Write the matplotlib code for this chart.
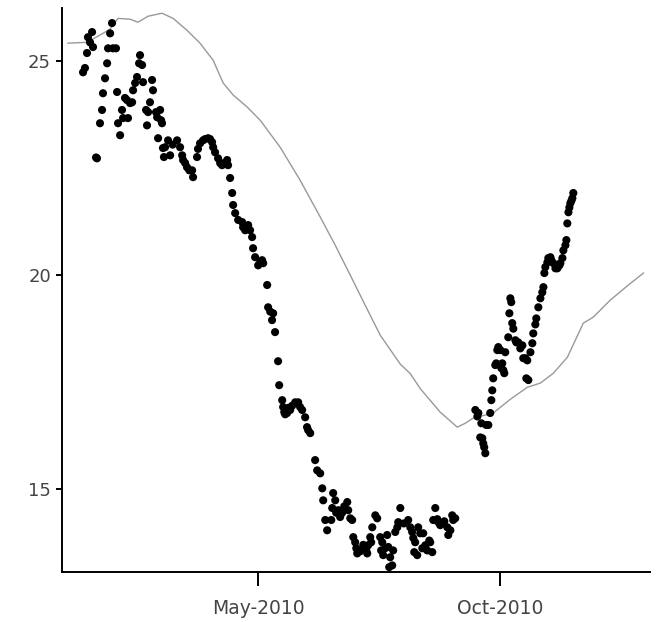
import matplotlib
matplotlib.use("Agg")
import matplotlib.pyplot as plt
import matplotlib.dates as mdates
import pandas as pd

# observed temperature, day offsets counted from 1 Jan 2010
obs_days = [
    9.4, 10.6, 11.9, 12.5, 13.8, 15.1, 15.7, 17.6, 18.2, 20.1, 21.4, 22.0, 23.3, 24.6, 25.2,
    26.5, 27.7, 28.3, 30.2, 30.9, 31.5, 32.8, 34.0, 34.7, 35.9, 37.2, 37.8, 39.1, 40.4, 41.0,
    42.3, 43.5, 44.8, 45.4, 46.7, 47.3, 49.2, 49.8, 50.5, 51.7, 53.0, 53.6, 55.5, 56.2, 56.8,
    58.1, 58.7, 59.3, 59.9, 60.5,
    61.2, 63.1, 64.4, 66.0, 68.8, 70.7, 72.0, 72.6, 73.9, 75.1, 76.5, 78.3, 78.9, 81.4, 82.0,
    83.3, 85.2, 86.5, 88.4, 89.6, 90.9, 91.6, 92.8, 94.7, 96.0, 97.2, 98.5, 100.4, 101.0, 102.3,
    103.6, 104.2, 105.5, 107.4, 109.9, 110.5, 111.8, 113.7, 114.9, 116.2, 116.8, 118.1, 120.0,
    121.3, 122.5, 123.2, 125.7, 126.3, 127.6, 128.8, 129.5, 130.7, 132.6, 133.3, 135.2, 135.8,
    136.5, 137.1, 138.3, 139.0, 140.2, 141.5, 143.4, 145.3, 146.5, 147.8, 149.7, 150.9, 151.6,
    152.9,
    156.0, 157.3, 159.2, 160.5, 161.1, 162.4, 163.6, 166.2, 166.8, 167.4, 168.7, 169.3, 170.6,
    171.8, 173.1, 174.4, 176.3, 176.9, 178.2, 179.4, 180.1, 181.3, 182.0, 182.6, 184.5, 186.4,
    188.3, 188.9, 189.5, 190.8, 191.4, 192.1, 194.0, 195.2, 197.1, 197.7, 198.4, 199.0, 200.2,
    201.5, 202.2, 202.8, 203.4, 204.7, 205.3, 206.6, 207.9, 208.5, 209.8, 212.0, 214.8, 216.1,
    217.3, 218.0, 218.6, 219.2, 220.5, 221.1, 222.4, 223.7, 224.3, 225.6, 226.8, 228.1, 228.7,
    230.0, 230.6, 231.9, 233.2, 233.8, 235.0, 236.3, 237.6, 239.5, 240.1, 241.4, 242.6, 243.2,
    244.5,
    257.2, 258.5, 259.1, 260.3, 261.0, 261.6, 262.2, 262.8, 263.5, 264.1, 265.4, 266.6, 267.3,
    267.9, 268.5, 269.8, 270.4, 271.1, 271.7, 273.0, 273.6, 274.2, 274.9, 275.5, 276.1, 278.0,
    278.7, 279.3, 279.9, 280.5, 281.2, 282.5, 283.1, 284.3, 285.6, 286.9, 287.5, 288.8, 289.4,
    290.0, 290.7, 292.0, 293.2, 293.8, 295.1, 295.7, 297.0, 298.3, 299.5, 300.2, 300.8, 301.4,
    302.7, 303.3, 304.6, 305.2, 306.5, 307.8, 309.0, 310.3, 310.9, 312.2, 312.8, 314.1, 314.7,
    315.3, 316.0, 316.6, 317.2, 317.9, 318.5, 319.1,
]
obs_temp = [
    24.74, 24.84, 25.19, 25.56, 25.44, 25.68, 25.33, 22.75, 22.73, 23.55, 23.86, 24.25, 24.60, 24.95, 25.30,
    25.65, 25.89, 25.30, 25.30, 24.28, 23.55, 23.27, 23.86, 23.67, 24.14, 24.09, 23.67, 24.02, 24.04, 24.32,
    24.49, 24.63, 24.95, 25.14, 24.91, 24.51, 23.86, 23.50, 23.81, 24.04, 24.56, 24.32, 23.81, 23.69, 23.20,
    23.86, 23.62, 23.55, 22.97, 22.76,
    22.99, 23.15, 22.80, 23.05, 23.15, 22.99, 22.80, 22.69, 22.62, 22.52, 22.45, 22.45, 22.29, 22.76, 22.95,
    23.08, 23.15, 23.18, 23.20, 23.18, 23.11, 22.99, 22.87, 22.73, 22.62, 22.57, 22.62, 22.69, 22.57, 22.27,
    21.92, 21.64, 21.45, 21.29, 21.24, 21.12, 21.05, 21.17, 21.05, 20.89, 20.63, 20.42, 20.23,
    20.30, 20.35, 20.28, 19.77, 19.25, 19.15, 18.95, 19.11, 18.67, 17.99, 17.43, 17.08, 16.92,
    16.80, 16.75, 16.78, 16.90, 16.85, 16.95, 17.03, 17.03, 16.92, 16.85, 16.68, 16.45, 16.38,
    16.31,
    15.68, 15.44, 15.37, 15.02, 14.74, 14.28, 14.04, 14.28, 14.56, 14.91, 14.74, 14.45, 14.51,
    14.35, 14.45, 14.60, 14.70, 14.51, 14.32, 14.28, 13.88, 13.76, 13.62, 13.50, 13.55, 13.70,
    13.57, 13.50, 13.69, 13.88, 13.76, 14.11, 14.39, 14.32, 13.88, 13.57, 13.76, 13.46, 13.62,
    13.93, 13.65, 13.18, 13.41, 13.22, 13.57, 14.00, 14.11, 14.23, 14.56, 14.20, 14.28, 14.11,
    14.00, 13.86, 13.53, 13.76, 13.46, 14.11, 13.97, 13.62, 13.97, 13.69, 13.57, 13.80, 13.76,
    13.53, 14.28, 14.56, 14.30, 14.23, 14.16, 14.20, 14.25, 14.11, 13.93, 14.04, 14.39, 14.28,
    14.32,
    16.85, 16.70, 16.78, 16.21, 16.54, 16.19, 16.07, 15.98, 15.84, 16.50, 16.50, 16.78, 17.08,
    17.31, 17.59, 17.90, 17.94, 18.25, 18.32, 18.25, 17.83, 17.94, 17.78, 17.71, 18.20, 18.55,
    19.11, 19.46, 19.37, 18.88, 18.75, 18.48, 18.43, 18.43, 18.29, 18.36, 18.06, 18.06, 17.59,
    18.01, 17.55, 18.20, 18.41, 18.64, 18.85, 18.99, 19.25, 19.46, 19.60, 19.72, 20.05, 20.19,
    20.30, 20.40, 20.42, 20.35, 20.28, 20.16, 20.16, 20.23, 20.28, 20.40, 20.58, 20.70, 20.82,
    21.21, 21.47, 21.58, 21.68, 21.74, 21.80, 21.92,
]

# smooth reference curve
ref_days = [-0.1, 11.9, 22.0, 26.5, 31.5, 39.1, 44.1, 50.5, 59.3, 66.3, 75.1, 83.3, 91.6,
            97.9, 104.2, 113.0, 121.3, 133.9, 146.5, 159.2, 168.7, 178.2, 187.6, 197.1,
            209.8, 216.1, 222.4, 235.0, 245.8, 250.8, 255.9, 268.5, 279.3, 290.0, 298.3,
            306.5, 315.3, 325.4, 331.7, 342.5, 353.2, 363.4]
ref_temp = [25.42, 25.44, 25.65, 25.75, 26.00, 25.98, 25.91, 26.05, 26.12, 26.00, 25.72,
            25.42, 25.02, 24.49, 24.21, 23.93, 23.62, 22.99, 22.22, 21.36, 20.70, 20.00,
            19.30, 18.60, 17.92, 17.70, 17.35, 16.80, 16.45, 16.54, 16.66, 16.78, 17.10,
            17.38, 17.48, 17.71, 18.08, 18.88, 19.02, 19.42, 19.75, 20.05]

start = pd.Timestamp("2010-01-01")
obs_dates = start + pd.to_timedelta(obs_days, unit="D")
ref_dates = start + pd.to_timedelta(ref_days, unit="D")

fig = plt.figure(figsize=(6.56, 6.22), dpi=100)
ax = fig.add_axes([0.0945, 0.080, 0.897, 0.907])

ax.plot(ref_dates, ref_temp, color="#999999", linewidth=1.0, zorder=1)
ax.scatter(obs_dates, obs_temp, s=34, color="black", edgecolors="none", zorder=2)

ax.set_xlim(start + pd.Timedelta(days=-3.9), start + pd.Timedelta(days=367.8))
ax.set_ylim(13.06, 26.24)
ax.set_yticks([15, 20, 25])
ax.xaxis.set_major_locator(mdates.MonthLocator(bymonth=[5, 10]))
ax.xaxis.set_major_formatter(mdates.DateFormatter("%b-%Y"))

for side in ["top", "right"]:
    ax.spines[side].set_visible(False)
for side in ["left", "bottom"]:
    ax.spines[side].set_linewidth(1.4)

ax.tick_params(axis="x", length=10, width=1.4, pad=9, labelsize=13.5, labelcolor="#444444")
ax.tick_params(axis="y", length=4, width=1.4, pad=4, labelsize=13, labelcolor="#444444")

fig.savefig("out.png", dpi=100)
